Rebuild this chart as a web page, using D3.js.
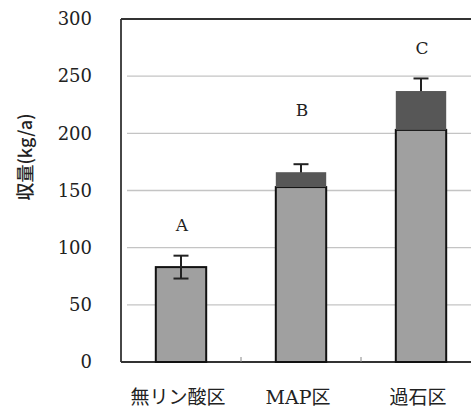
<!DOCTYPE html>
<html>
<head>
<meta charset="utf-8">
<script src="https://cdn.jsdelivr.net/npm/d3@7"></script>
<style>
  html, body { margin: 0; padding: 0; background: #fff; }
  svg { display: block; }
</style>
</head>
<body>
<svg id="chart" width="471" height="408"></svg>
<script>
// Yield per plot (kg/a) with standard error and significance letters
const categories = ["無リン酸区", "MAP区", "過石区"];
const baseValues = [83, 153, 203];     // lower (light) segment
const totalValues = [83, 166, 237];    // full bar height
const errors = [10, 7, 11];
const letters = ["A", "B", "C"];
const letterLevels = [120, 220, 275];  // height of significance letters (kg/a)
const yTicks = [0, 50, 100, 150, 200, 250, 300];

(function draw() {
  const svg = d3.select("#chart");
  const plotLeft = 121, plotRight = 481, plotTop = 19, plotBottom = 362;

  const x = d3.scaleBand()
    .domain(categories)
    .range([plotLeft, plotRight])
    .paddingInner(0.58)
    .paddingOuter(0.29);

  const y = d3.scaleLinear().domain([0, 300]).range([plotBottom, plotTop]);

  const serif = "'DejaVu Serif', 'Liberation Serif', 'Noto Sans CJK JP', serif";
  const jp = "'Noto Sans CJK JP', 'DejaVu Serif', sans-serif";

  // horizontal gridlines
  svg.append("g")
    .selectAll("line")
    .data(yTicks.filter(d => d > 0 && d < 300))
    .join("line")
    .attr("x1", plotLeft + 6).attr("x2", 471)
    .attr("y1", d => y(d)).attr("y2", d => y(d))
    .attr("stroke", "#c4c4c4").attr("stroke-width", 1.4);

  // y axis labels (frame drawn separately)
  const yAxis = d3.axisLeft(y).tickValues(yTicks).tickSize(0).tickPadding(29);
  const gy = svg.append("g").attr("transform", `translate(${plotLeft},0)`).call(yAxis);
  gy.select(".domain").remove();
  gy.selectAll("text")
    .attr("font-family", serif)
    .attr("font-size", 18)
    .attr("fill", "#222");

  // frame: top, left and baseline
  const frame = svg.append("g").attr("stroke", "#333").attr("stroke-width", 1.8);
  frame.append("line").attr("x1", plotLeft).attr("x2", 471).attr("y1", plotTop).attr("y2", plotTop);
  frame.append("line").attr("x1", plotLeft).attr("x2", plotLeft).attr("y1", plotTop).attr("y2", plotBottom);
  frame.append("line").attr("x1", plotLeft).attr("x2", 471).attr("y1", plotBottom).attr("y2", plotBottom);

  // small category separator ticks on the baseline
  const gap = x.step() - x.bandwidth();
  svg.append("g").selectAll("line")
    .data(categories.slice(1))
    .join("line")
    .attr("x1", d => x(d) - gap / 2)
    .attr("x2", d => x(d) - gap / 2)
    .attr("y1", plotBottom).attr("y2", plotBottom - 5)
    .attr("stroke", "#888").attr("stroke-width", 1);

  // light lower segment
  svg.append("g").selectAll("rect")
    .data(categories)
    .join("rect")
    .attr("x", d => x(d))
    .attr("width", x.bandwidth())
    .attr("y", (d, i) => y(baseValues[i]))
    .attr("height", (d, i) => y(0) - y(baseValues[i]))
    .attr("fill", "#a0a0a0")
    .attr("stroke", "#111").attr("stroke-width", 2);

  // error bars (drawn under the dark segment, which hides their lower half)
  const eb = svg.append("g").attr("stroke", "#222").attr("stroke-width", 2);
  categories.forEach((c, i) => {
    const cx = x(c) + x.bandwidth() / 2;
    const hi = y(totalValues[i] + errors[i]);
    const lo = y(totalValues[i] - errors[i]);
    eb.append("line").attr("x1", cx).attr("x2", cx).attr("y1", hi).attr("y2", lo);
    eb.append("line").attr("x1", cx - 7.5).attr("x2", cx + 7.5).attr("y1", hi).attr("y2", hi);
    eb.append("line").attr("x1", cx - 7.5).attr("x2", cx + 7.5).attr("y1", lo).attr("y2", lo);
  });

  // dark upper segment
  svg.append("g").selectAll("rect")
    .data(categories)
    .join("rect")
    .attr("x", d => x(d))
    .attr("width", x.bandwidth())
    .attr("y", (d, i) => y(totalValues[i]))
    .attr("height", (d, i) => y(baseValues[i]) - y(totalValues[i]))
    .attr("fill", "#575757");

  // significance letters
  svg.append("g").selectAll("text")
    .data(categories)
    .join("text")
    .attr("x", d => x(d) + x.bandwidth() / 2 + 1)
    .attr("y", (d, i) => y(letterLevels[i]))
    .attr("dy", "0.35em")
    .attr("text-anchor", "middle")
    .attr("font-family", serif)
    .attr("font-size", 17)
    .attr("fill", "#222")
    .text((d, i) => letters[i]);

  // category labels
  svg.append("g").selectAll("text")
    .data(categories)
    .join("text")
    .attr("x", d => x(d) + x.bandwidth() / 2 - 3)
    .attr("y", 397)
    .attr("dy", "0.35em")
    .attr("text-anchor", "middle")
    .attr("font-family", serif)
    .attr("font-size", 19)
    .attr("fill", "#222")
    .text(d => d);

  // y axis title
  svg.append("text")
    .attr("transform", "translate(26,157) rotate(-90)")
    .attr("text-anchor", "middle")
    .attr("dy", "0.35em")
    .attr("font-family", jp)
    .attr("font-weight", 500)
    .attr("font-size", 18)
    .attr("fill", "#222")
    .text("収量(kg/a)");
})();
</script>
</body>
</html>
